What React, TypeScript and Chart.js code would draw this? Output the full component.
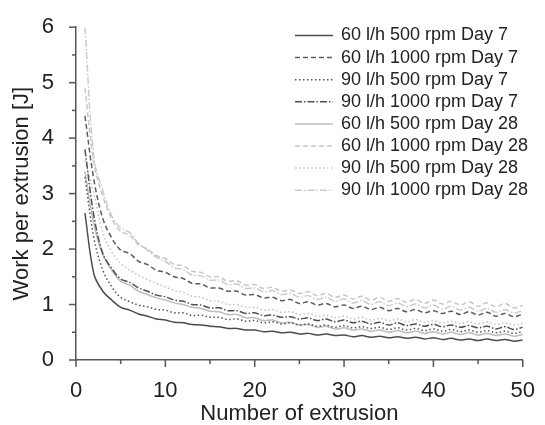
import React, { useEffect, useRef } from "react";
import { Chart, registerables } from "chart.js";

Chart.register(...registerables);

const extrusions = Array.from({ length: 50 }, (_, i) => i + 1);

const seriesLabels = [
  "60 l/h 500 rpm Day 7",
  "60 l/h 1000 rpm Day 7",
  "90 l/h 500 rpm Day 7",
  "90 l/h 1000 rpm Day 7",
  "60 l/h 500 rpm Day 28",
  "60 l/h 1000 rpm Day 28",
  "90 l/h 500 rpm Day 28",
  "90 l/h 1000 rpm Day 28",
];

const s60_500_d7 = [
  2.65, 1.55, 1.24, 1.08, 0.95, 0.9, 0.83, 0.79, 0.74, 0.72,
  0.68, 0.67, 0.64, 0.63, 0.61, 0.6, 0.57, 0.57, 0.54, 0.54,
  0.51, 0.52, 0.49, 0.5, 0.47, 0.48, 0.45, 0.47, 0.44, 0.45,
  0.42, 0.44, 0.41, 0.43, 0.4, 0.42, 0.39, 0.41, 0.38, 0.4,
  0.37, 0.39, 0.36, 0.38, 0.35, 0.38, 0.35, 0.37, 0.34, 0.36,
];
const s60_1000_d7 = [
  4.4, 3.25, 2.55, 2.2, 1.98, 1.92, 1.78, 1.72, 1.62, 1.58,
  1.5, 1.47, 1.38, 1.37, 1.3, 1.3, 1.24, 1.24, 1.17, 1.18,
  1.12, 1.13, 1.07, 1.09, 1.02, 1.05, 0.99, 1.02, 0.96, 0.99,
  0.93, 0.97, 0.91, 0.95, 0.89, 0.93, 0.87, 0.91, 0.85, 0.89,
  0.84, 0.88, 0.82, 0.87, 0.81, 0.86, 0.79, 0.84, 0.78, 0.83,
];
const s90_500_d7 = [
  3.3, 2.2, 1.62, 1.32, 1.13, 1.05, 0.99, 0.96, 0.91, 0.9,
  0.85, 0.85, 0.8, 0.81, 0.77, 0.77, 0.73, 0.74, 0.7, 0.71,
  0.67, 0.69, 0.65, 0.67, 0.63, 0.65, 0.61, 0.63, 0.59, 0.62,
  0.58, 0.6, 0.57, 0.59, 0.55, 0.58, 0.54, 0.57, 0.53, 0.56,
  0.52, 0.55, 0.51, 0.54, 0.5, 0.53, 0.49, 0.52, 0.48, 0.51,
];
const s90_1000_d7 = [
  3.8, 2.6, 1.92, 1.65, 1.46, 1.4, 1.3, 1.24, 1.17, 1.14,
  1.08, 1.06, 1.0, 0.99, 0.94, 0.94, 0.89, 0.89, 0.84, 0.85,
  0.8, 0.81, 0.77, 0.78, 0.74, 0.76, 0.71, 0.74, 0.69, 0.72,
  0.67, 0.7, 0.65, 0.68, 0.63, 0.67, 0.62, 0.65, 0.61, 0.64,
  0.6, 0.63, 0.59, 0.62, 0.58, 0.61, 0.56, 0.6, 0.55, 0.59,
];
const s60_500_d28 = [
  3.4, 2.45, 1.9, 1.62, 1.42, 1.35, 1.24, 1.18, 1.12, 1.08,
  1.03, 1.0, 0.95, 0.93, 0.88, 0.87, 0.82, 0.82, 0.76, 0.76,
  0.71, 0.72, 0.67, 0.68, 0.63, 0.64, 0.59, 0.61, 0.56, 0.58,
  0.54, 0.56, 0.52, 0.54, 0.5, 0.53, 0.49, 0.52, 0.48, 0.51,
  0.47, 0.5, 0.46, 0.49, 0.45, 0.48, 0.44, 0.47, 0.43, 0.46,
];
const s60_1000_d28 = [
  4.9, 3.55, 2.95, 2.55, 2.32, 2.25, 2.08, 2.0, 1.88, 1.83,
  1.72, 1.7, 1.6, 1.58, 1.5, 1.5, 1.42, 1.43, 1.35, 1.36,
  1.29, 1.31, 1.24, 1.26, 1.2, 1.23, 1.16, 1.2, 1.13, 1.17,
  1.1, 1.15, 1.08, 1.13, 1.06, 1.11, 1.04, 1.09, 1.02, 1.08,
  1.01, 1.06, 0.99, 1.05, 0.97, 1.03, 0.96, 1.02, 0.94, 0.98,
];
const s90_500_d28 = [
  3.6, 3.0, 2.3, 1.95, 1.74, 1.62, 1.53, 1.45, 1.38, 1.32,
  1.25, 1.22, 1.15, 1.13, 1.07, 1.06, 1.0, 1.0, 0.95, 0.95,
  0.9, 0.91, 0.86, 0.87, 0.82, 0.84, 0.79, 0.81, 0.76, 0.79,
  0.74, 0.77, 0.72, 0.75, 0.71, 0.74, 0.69, 0.73, 0.68, 0.71,
  0.67, 0.7, 0.66, 0.69, 0.65, 0.68, 0.64, 0.67, 0.63, 0.66,
];
const s90_1000_d28 = [
  6.0, 3.65, 3.05, 2.6, 2.38, 2.3, 2.1, 1.98, 1.85, 1.78,
  1.66, 1.63, 1.53, 1.52, 1.44, 1.44, 1.36, 1.37, 1.29, 1.3,
  1.23, 1.25, 1.18, 1.2, 1.13, 1.16, 1.09, 1.13, 1.06, 1.1,
  1.03, 1.07, 1.0, 1.05, 0.98, 1.03, 0.96, 1.01, 0.94, 0.99,
  0.92, 0.97, 0.9, 0.95, 0.88, 0.93, 0.86, 0.91, 0.85, 0.89,
];

const seriesValues = [
  s60_500_d7, s60_1000_d7, s90_500_d7, s90_1000_d7,
  s60_500_d28, s60_1000_d28, s90_500_d28, s90_1000_d28,
];

const xTickValues = [0, 10, 20, 30, 40, 50];
const yTickValues = [0, 1, 2, 3, 4, 5, 6];

const seriesColors = [
  "#4d4d4d", "#5c5c5c", "#555555", "#505050",
  "#bdbdbd", "#c6c6c6", "#c2c2c2", "#cbcbcb",
];
const solid: number[] = [];
const dashed = [5, 3];
const dotted = [1.5, 2.5];
const dashDot = [7, 2, 1.5, 2];
const seriesDash = [solid, dashed, dotted, dashDot, solid, dashed, dotted, dashDot];

const FONT = '"Liberation Sans", Arial, sans-serif';
const TEXT = "#222222";
const AXIS = "#555555";

const ticksPlugin = {
  id: "axisTicks",
  afterDraw(chart: any) {
    const ctx = chart.ctx;
    const xs = chart.scales.x;
    const ys = chart.scales.y;
    const { left, bottom } = chart.chartArea;
    ctx.save();
    ctx.strokeStyle = AXIS;
    ctx.lineWidth = 1.5;
    ctx.setLineDash([]);
    const drawX = (v: number, len: number) => {
      const p = xs.getPixelForValue(v);
      ctx.beginPath();
      ctx.moveTo(p, bottom);
      ctx.lineTo(p, bottom + len);
      ctx.stroke();
    };
    const drawY = (v: number, len: number) => {
      const p = ys.getPixelForValue(v);
      ctx.beginPath();
      ctx.moveTo(left, p);
      ctx.lineTo(left - len, p);
      ctx.stroke();
    };
    xTickValues.forEach((v, i) => {
      drawX(v, 7);
      if (i < xTickValues.length - 1) drawX((v + xTickValues[i + 1]) / 2, 4);
    });
    yTickValues.forEach((v, i) => {
      drawY(v, 7);
      if (i < yTickValues.length - 1) drawY((v + yTickValues[i + 1]) / 2, 4);
    });
    ctx.restore();
  },
};

const legendPlugin = {
  id: "inlineLegend",
  afterDraw(chart: any) {
    const ctx = chart.ctx;
    ctx.save();
    chart.data.datasets.forEach((ds: any, i: number) => {
      const y = 35.5 + i * 22.1;
      ctx.strokeStyle = ds.borderColor;
      ctx.lineWidth = ds.borderWidth;
      ctx.setLineDash(ds.borderDash || []);
      ctx.beginPath();
      ctx.moveTo(295, y);
      ctx.lineTo(333, y);
      ctx.stroke();
      ctx.setLineDash([]);
      ctx.fillStyle = TEXT;
      ctx.font = `18px ${FONT}`;
      ctx.textBaseline = "middle";
      ctx.textAlign = "left";
      ctx.fillText(ds.label, 341, y);
    });
    ctx.restore();
  },
};

export default function App() {
  const ref = useRef<HTMLCanvasElement | null>(null);
  useEffect(() => {
    if (!ref.current) return;
    const chart = new Chart(ref.current, {
      type: "line",
      data: {
        datasets: seriesLabels.map((label, i) => ({
          label,
          data: extrusions.map((x, j) => ({ x, y: seriesValues[i][j] })),
          borderColor: seriesColors[i],
          borderWidth: 1.5,
          borderDash: seriesDash[i],
          pointRadius: 0,
          fill: false,
          tension: 0.35,
        })),
      },
      options: {
        animation: false,
        responsive: false,
        maintainAspectRatio: false,
        layout: { padding: { left: 0, right: 15, top: 25, bottom: 0 } },
        plugins: {
          legend: { display: false },
          tooltip: { enabled: false },
        },
        scales: {
          x: {
            type: "linear",
            min: 0,
            max: 50,
            afterFit: (s: any) => {
              s.height = 65;
            },
            afterBuildTicks: (s: any) => {
              s.ticks = xTickValues.map((value) => ({ value }));
            },
            grid: { display: false },
            border: { display: true, color: AXIS, width: 1.5 },
            ticks: {
              color: TEXT,
              font: { family: FONT, size: 22 },
              padding: 10,
              maxRotation: 0,
            },
            title: {
              display: true,
              text: "Number of extrusion",
              color: TEXT,
              font: { family: FONT, size: 22, lineHeight: 1 },
              padding: { top: 0, bottom: 0 },
            },
          },
          y: {
            type: "linear",
            min: 0,
            max: 6,
            afterFit: (s: any) => {
              s.width = 76;
            },
            afterBuildTicks: (s: any) => {
              s.ticks = yTickValues.map((value) => ({ value }));
            },
            grid: { display: false },
            border: { display: true, color: AXIS, width: 1.5 },
            ticks: {
              color: TEXT,
              font: { family: FONT, size: 22 },
              padding: 14,
            },
            title: {
              display: true,
              text: "Work per extrusion [J]",
              color: TEXT,
              font: { family: FONT, size: 22, lineHeight: 1 },
              padding: { top: 11, bottom: 0 },
            },
          },
        },
      },
      plugins: [ticksPlugin, legendPlugin],
    });
    return () => chart.destroy();
  }, []);
  return (
    <div style={{ position: "fixed", left: 0, top: 0, width: 545, height: 425, background: "#fff" }}>
      <canvas ref={ref} width={545} height={425} style={{ width: 545, height: 425 }} />
    </div>
  );
}
